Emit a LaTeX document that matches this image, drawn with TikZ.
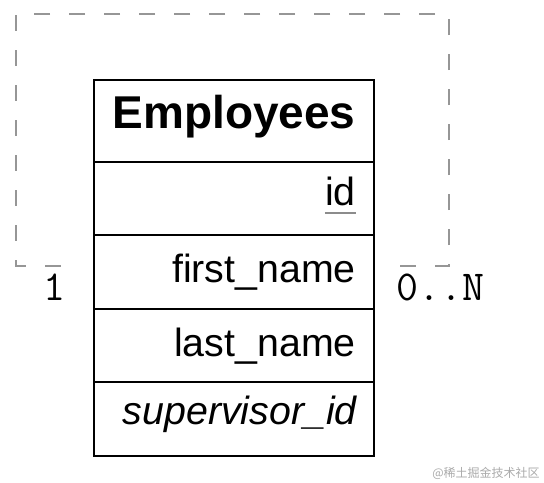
\documentclass[tikz,border=0pt]{standalone}
\usepackage{fontspec}
\setmainfont{Liberation Sans}
\newfontfamily\cjk{Noto Sans CJK SC}
\usetikzlibrary{calc}
\begin{document}
\begin{tikzpicture}[x=0.75pt,y=-0.75pt,
  frame/.style={draw=black,line width=2pt},
  field/.style={anchor=base east,inner sep=0pt,font=\fontsize{29.5pt}{31pt}\selectfont},
  title/.style={anchor=base,inner sep=0pt,font=\fontsize{34.5pt}{36pt}\selectfont\bfseries},
  mult/.style={inner sep=0pt,font=\fontsize{32pt}{33pt}\selectfont\ttfamily},
  selfrel/.style={draw={rgb,255:red,150;green,150;blue,150},line width=2.2pt,dash pattern=on 12pt off 14.25pt},
  keyline/.style={draw={rgb,255:red,140;green,140;blue,140},line width=2pt}]
\useasboundingbox (0,0) rectangle (544,483);
% table frame
\coordinate (tl) at (94,80);
\coordinate (br) at (374,456);
\draw[frame] (tl) rectangle (br);
\foreach \yy in {162,235,309,382} \draw[frame] (94,\yy) -- (374,\yy);
% texts
\node[title] (ttl) at (234,128) {Employees};
\node[field] (id) at (356,205) {id};
\node[field] (fn) at (356,282) {first\_name};
\node[field] (ln) at (356,356) {last\_name};
\node[field] (sv) at (357,424) {\itshape supervisor\_id};
\draw[keyline] ($(id.base west)+(0,8)$) -- ($(id.base east)+(0,8)$);
% self relation
\coordinate (selfR) at (400,266);
\coordinate (selfL) at (70,266);
\coordinate (cBR) at (449,266);
\coordinate (cTR) at (449,14);
\coordinate (cTL) at (16,14);
\coordinate (cBL) at (16,266);
\draw[selfrel] (selfR) -- (cBR) -- (cTR) -- (cTL) -- (cBL) -- (selfL);
\node[mult,anchor=base] (m1) at (54,300) {1};
\node[mult,anchor=base west] (mN) at (396,300) {0..N};
% watermark
\node[anchor=base east,inner sep=0pt,text={rgb,255:red,170;green,170;blue,170},font=\cjk\fontsize{9pt}{10pt}\selectfont] (wm) at (540,477) {@稀土掘金技术社区};
\end{tikzpicture}
\end{document}
